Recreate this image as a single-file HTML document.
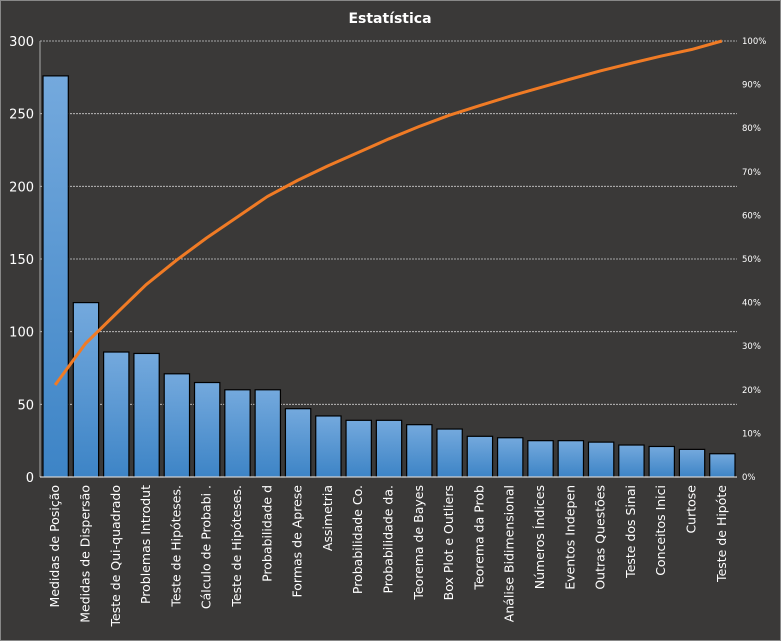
<!DOCTYPE html><html><head><style>body{margin:0;background:#3a3938}svg{display:block}</style></head><body>
<svg id="s" width="781" height="641" xmlns="http://www.w3.org/2000/svg" font-family="DejaVu Sans, sans-serif">
<defs><linearGradient id="g" x1="0" y1="0" x2="0" y2="1"><stop offset="0" stop-color="#74a9dd"/><stop offset="1" stop-color="#3d84c6"/></linearGradient></defs>
<rect x="0.5" y="0.5" width="780" height="640" fill="#3a3938" stroke="#888"/>
<text x="390" y="23" text-anchor="middle" fill="#fff" font-size="14" font-weight="bold">Estatística</text>
</svg>
<script>
const s=document.getElementById('s'),NS='http://www.w3.org/2000/svg';
function el(t,a,txt){const e=document.createElementNS(NS,t);for(const k in a)e.setAttribute(k,a[k]);if(txt!=null)e.textContent=txt;s.appendChild(e);return e;}
const L=40,R=737,T=41,B=477,H=B-T;
const names=["Medidas de Posição","Medidas de Dispersão","Teste de Qui-quadrado","Problemas Introdut","Teste de Hipóteses.","Cálculo de Probabi .","Teste de Hipóteses.","Probabilidade d","Formas de Aprese","Assimetria","Probabilidade Co.","Probabilidade  da.","Teorema de Bayes","Box Plot e Outliers","Teorema da Prob","Análise Bidimensional","Números Índices","Eventos Indepen","Outras Questões","Teste dos Sinai","Conceitos Inici","Curtose","Teste de Hipóte"];
const v=[276,120,86,85,71,65,60,60,47,42,39,39,36,33,28,27,25,25,24,22,21,19,16];
for(let i=1;i<=6;i++){const y=B-i*H/6;el('line',{x1:L,x2:R,y1:y,y2:y,stroke:'#ccc','stroke-dasharray':'2,1','stroke-width':0.8});el('text',{x:34,y:y+5,'text-anchor':'end',fill:'#fff','font-size':13},String(i*50));}
el('text',{x:34,y:B+5,'text-anchor':'end',fill:'#fff','font-size':13},'0');
for(let i=0;i<=10;i++){const y=B-i*H/10;el('text',{x:742,y:y+3,fill:'#fff','font-size':8.5},i*10+'%');}
const w=(R-L)/23;let tot=v.reduce((a,b)=>a+b),c=0,pts=[];
v.forEach((d,i)=>{const x=L+i*w,h=d/300*H;el('rect',{x:x+3,y:B-h,width:w-5,height:h,fill:'url(#g)',stroke:'#000','stroke-width':1.2});
c+=d;pts.push((x+w/2)+','+(B-c/tot*H+3));
el('text',{transform:`translate(${x+w/2+4},485) rotate(-90)`,'text-anchor':'end',fill:'#fff','font-size':12.5},names[i]);});
pts[pts.length-1]=(L+22.5*w)+','+T;
el('line',{x1:L,x2:L,y1:T,y2:B,stroke:'#aaa'});el('line',{x1:L,x2:R,y1:B,y2:B,stroke:'#fff'});
el('polyline',{points:pts.join(' '),fill:'none',stroke:'#f07b25','stroke-width':3,'stroke-linejoin':'round'});
</script></body></html>
